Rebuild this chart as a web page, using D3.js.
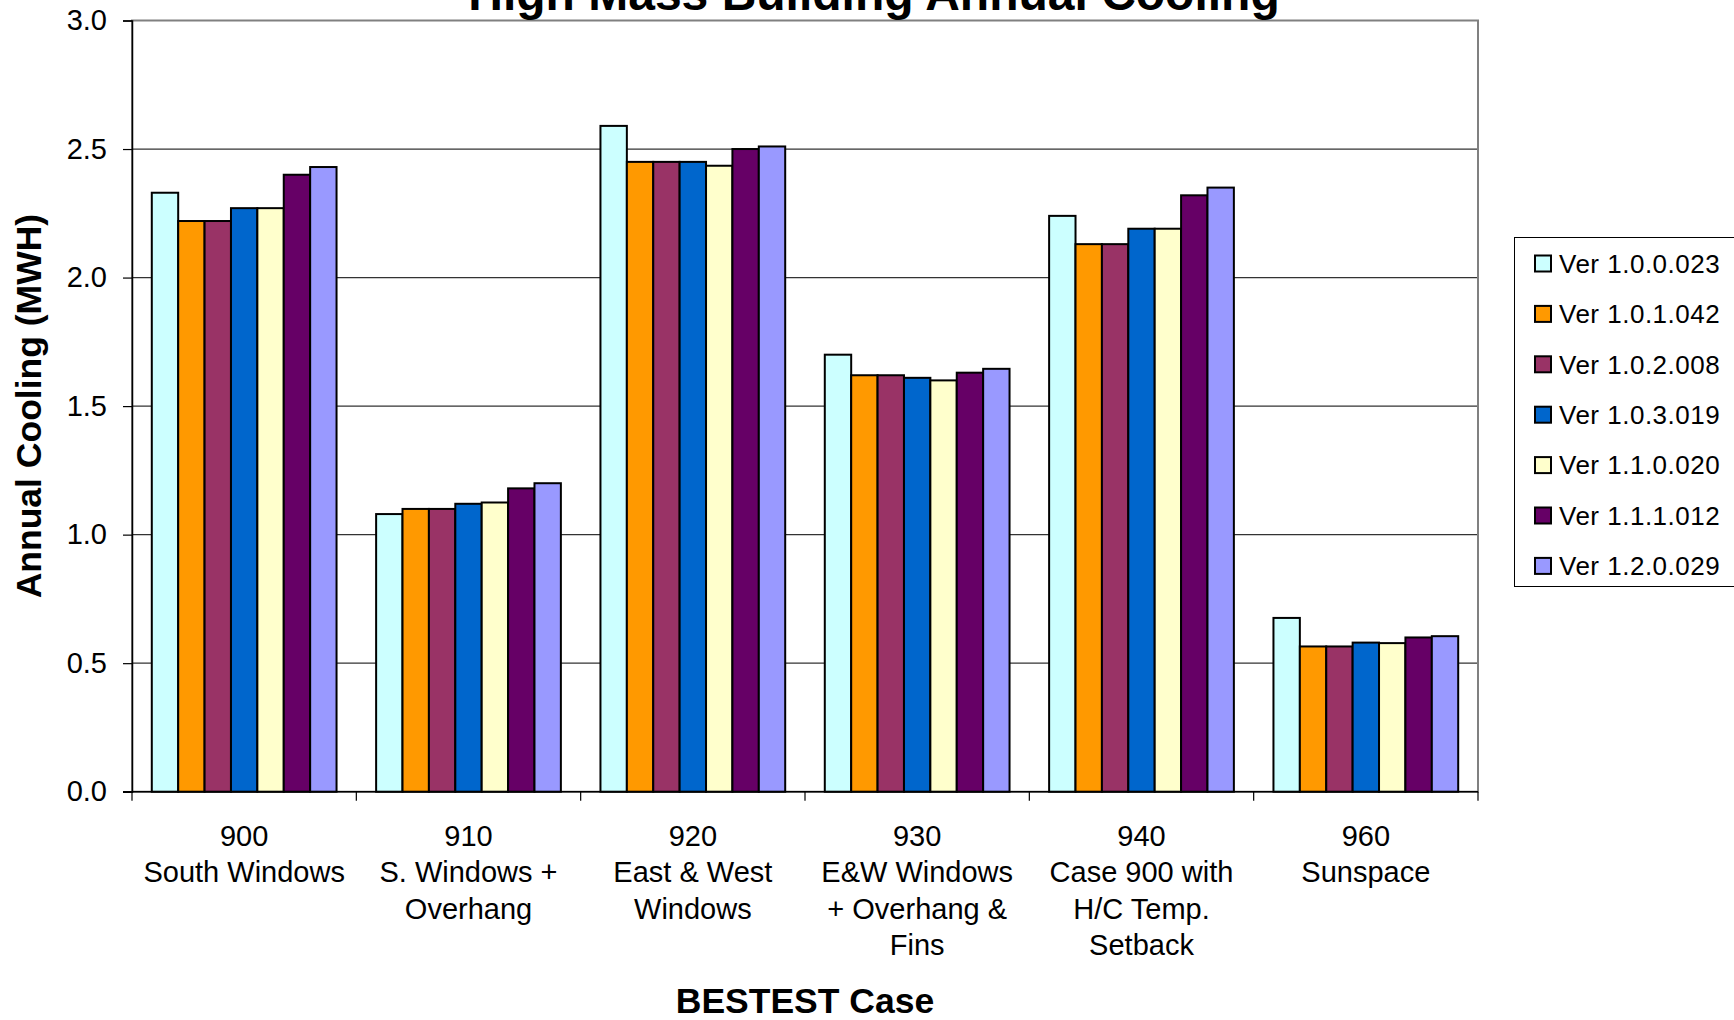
<!DOCTYPE html>
<html>
<head>
<meta charset="utf-8">
<script src="https://cdn.jsdelivr.net/npm/d3@7"></script>
<style>
  html, body { margin: 0; padding: 0; background: #fff; }
  svg { display: block; font-family: "Liberation Sans", Arial, sans-serif; }
</style>
</head>
<body>
<svg id="chart" width="1734" height="1020"></svg>
<script>
// BESTEST cases (x categories) and their multi-line labels
const cases = ["900", "910", "920", "930", "940", "960"];
const caseLabels = [
  ["900", "South Windows"],
  ["910", "S. Windows +", "Overhang"],
  ["920", "East & West", "Windows"],
  ["930", "E&W Windows", "+ Overhang &", "Fins"],
  ["940", "Case 900 with", "H/C Temp.", "Setback"],
  ["960", "Sunspace"]
];

// Software versions (series)
const versions = [
  "Ver 1.0.0.023", "Ver 1.0.1.042", "Ver 1.0.2.008", "Ver 1.0.3.019",
  "Ver 1.1.0.020", "Ver 1.1.1.012", "Ver 1.2.0.029"
];
const colors = ["#CCFFFF", "#FF9900", "#993366", "#0066CC", "#FFFFCC", "#660066", "#9999FF"];

// Annual cooling (MWH) per version, in case order
const v1000023 = [2.33, 1.08, 2.59, 1.70, 2.24, 0.676];
const v1010042 = [2.22, 1.10, 2.45, 1.62, 2.13, 0.565];
const v1020008 = [2.22, 1.10, 2.45, 1.62, 2.13, 0.565];
const v1030019 = [2.27, 1.12, 2.45, 1.61, 2.19, 0.58];
const v1110020 = [2.27, 1.125, 2.435, 1.60, 2.19, 0.578];
const v1111012 = [2.40, 1.18, 2.50, 1.63, 2.32, 0.60];
const v1200029 = [2.43, 1.20, 2.51, 1.645, 2.35, 0.605];
const seriesValues = [v1000023, v1010042, v1020008, v1030019, v1110020, v1111012, v1200029];

const yTicks = [0, 0.5, 1.0, 1.5, 2.0, 2.5, 3.0];

const svg = d3.select("#chart");
const plot = { left: 132, right: 1478, top: 20.5, bottom: 791.7 };

const x = d3.scaleBand().domain(cases).range([plot.left, plot.right]).padding(0);
const band = x.bandwidth();
const barW = band / 8.5;
const xs = d3.scaleBand().domain(versions).range([barW * 0.75, band - barW * 0.75]).padding(0);
const y = d3.scaleLinear().domain([0, 3]).range([plot.bottom, plot.top]);

// Gridlines
svg.append("g")
  .selectAll("line")
  .data(yTicks.filter(t => t > 0 && t < 3))
  .join("line")
  .attr("x1", plot.left).attr("x2", plot.right)
  .attr("y1", d => y(d)).attr("y2", d => y(d))
  .attr("stroke", "#333").attr("stroke-width", 1.2);

// Plot area border
svg.append("rect")
  .attr("x", plot.left).attr("y", plot.top)
  .attr("width", plot.right - plot.left).attr("height", plot.bottom - plot.top)
  .attr("fill", "none").attr("stroke", "#808080").attr("stroke-width", 2);

// Bars
const groups = svg.append("g")
  .selectAll("g")
  .data(cases)
  .join("g")
  .attr("transform", d => `translate(${x(d)},0)`);

groups.selectAll("rect")
  .data((c, ci) => versions.map((v, vi) => ({ v, vi, value: seriesValues[vi][ci] })))
  .join("rect")
  .attr("x", d => xs(d.v))
  .attr("width", xs.bandwidth())
  .attr("y", d => y(d.value))
  .attr("height", d => y(0) - y(d.value))
  .attr("fill", d => colors[d.vi])
  .attr("stroke", "#000")
  .attr("stroke-width", 2);

// Y axis
const yAxis = svg.append("g")
  .attr("transform", `translate(${plot.left},0)`)
  .call(d3.axisLeft(y).tickValues(yTicks).tickFormat(d3.format(".1f")).tickSize(9).tickPadding(16));
yAxis.select(".domain").attr("stroke", "#000").attr("stroke-width", 1.5);
yAxis.selectAll(".tick line").attr("stroke", "#000").attr("stroke-width", 1.2);
yAxis.selectAll(".tick text")
  .attr("font-size", 29).attr("fill", "#000")
  .style("font-family", "'Liberation Sans', Arial, sans-serif");

// X axis baseline and category boundary ticks
svg.append("line")
  .attr("x1", plot.left - 9).attr("x2", plot.right)
  .attr("y1", plot.bottom).attr("y2", plot.bottom)
  .attr("stroke", "#000").attr("stroke-width", 1.5);
const bounds = cases.map(c => x(c)).concat([plot.right]);
svg.append("g")
  .selectAll("line")
  .data(bounds)
  .join("line")
  .attr("x1", d => d).attr("x2", d => d)
  .attr("y1", plot.bottom).attr("y2", plot.bottom + 9)
  .attr("stroke", "#000").attr("stroke-width", 1.2);

// Category labels
const catG = svg.append("g")
  .selectAll("text")
  .data(caseLabels)
  .join("text")
  .attr("text-anchor", "middle")
  .attr("font-size", 29)
  .attr("fill", "#000")
  .attr("transform", (d, i) => `translate(${x(cases[i]) + band / 2},845.7)`);
catG.selectAll("tspan")
  .data(d => d)
  .join("tspan")
  .attr("x", 0)
  .attr("dy", (d, i) => i === 0 ? 0 : 36.5)
  .text(d => d);

// Titles
svg.append("text")
  .attr("x", 874).attr("y", 10)
  .attr("text-anchor", "middle")
  .attr("font-size", 48).attr("font-weight", "bold")
  .text("High Mass Building Annual Cooling");

svg.append("text")
  .attr("x", (plot.left + plot.right) / 2).attr("y", 1013)
  .attr("text-anchor", "middle")
  .attr("font-size", 35.5).attr("font-weight", "bold")
  .text("BESTEST Case");

svg.append("text")
  .attr("transform", `translate(40.5,${(plot.top + plot.bottom) / 2}) rotate(-90)`)
  .attr("text-anchor", "middle")
  .attr("font-size", 35.5).attr("font-weight", "bold")
  .text("Annual Cooling (MWH)");

// Legend
const legend = svg.append("g");
legend.append("rect")
  .attr("x", 1514.5).attr("y", 237.5)
  .attr("width", 240).attr("height", 349)
  .attr("fill", "#fff").attr("stroke", "#000").attr("stroke-width", 1);
const items = legend.selectAll("g.item")
  .data(versions)
  .join("g")
  .attr("class", "item")
  .attr("transform", (d, i) => `translate(1535,${263.5 + i * 50.4})`);
items.append("rect")
  .attr("x", 0).attr("y", -8)
  .attr("width", 16).attr("height", 16)
  .attr("fill", (d, i) => colors[i])
  .attr("stroke", "#000").attr("stroke-width", 2);
items.append("text")
  .attr("x", 24).attr("y", 9.3)
  .attr("font-size", 26).attr("letter-spacing", 0.5).attr("fill", "#000")
  .text(d => d);
</script>
</body>
</html>
